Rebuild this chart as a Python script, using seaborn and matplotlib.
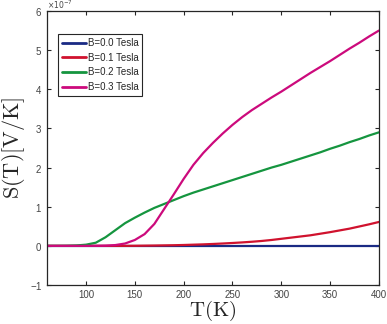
import numpy as np
import pandas as pd
import matplotlib
matplotlib.use("Agg")
import matplotlib.pyplot as plt
import seaborn as sns
from matplotlib.ticker import ScalarFormatter

# Temperature grid (K)
T = [60, 70, 80, 90, 100, 110, 120, 130, 140, 150, 160, 170, 180, 190, 200,
     210, 220, 230, 240, 250, 260, 270, 280, 290, 300, 310, 320, 330, 340,
     350, 360, 370, 380, 390, 400]

# Seebeck coefficient in units of 1e-7 V/K
S_B00 = [0.0] * len(T)
S_B01 = [0, 0, 0, 0, 0, 0, 0, 0, 0, 0.002, 0.005, 0.008, 0.012, 0.016, 0.022,
         0.03, 0.038, 0.048, 0.06, 0.073, 0.088, 0.105, 0.125, 0.15, 0.18,
         0.21, 0.24, 0.27, 0.31, 0.35, 0.395, 0.44, 0.495, 0.55, 0.61]
S_B02 = [0, 0, 0.002, 0.01, 0.03, 0.08, 0.22, 0.40, 0.58, 0.72, 0.85, 0.97,
         1.07, 1.17, 1.27, 1.36, 1.44, 1.52, 1.60, 1.68, 1.76, 1.84, 1.92,
         2.00, 2.07, 2.15, 2.23, 2.31, 2.39, 2.48, 2.56, 2.65, 2.73, 2.82, 2.90]
S_B03 = [0, 0, 0, 0, 0, 0, 0.005, 0.02, 0.06, 0.15, 0.30, 0.56, 0.94, 1.32,
         1.71, 2.07, 2.37, 2.63, 2.87, 3.09, 3.29, 3.47, 3.63, 3.79, 3.94,
         4.10, 4.26, 4.42, 4.57, 4.72, 4.88, 5.04, 5.19, 5.35, 5.50]

labels = ["B=0.0 Tesla", "B=0.1 Tesla", "B=0.2 Tesla", "B=0.3 Tesla"]
colors = ["#1a2a84", "#d0122e", "#15953f", "#cc0a7c"]
scale = 1e-7

frames = []
for lab, s in zip(labels, [S_B00, S_B01, S_B02, S_B03]):
    frames.append(pd.DataFrame({"T": T, "S": np.array(s) * scale, "B": lab}))
df = pd.concat(frames, ignore_index=True)

sns.set_style("ticks")
plt.rcParams["font.family"] = ["Liberation Sans", "DejaVu Sans"]
plt.rcParams["mathtext.fontset"] = "cm"
plt.rcParams["axes.unicode_minus"] = False

fig = plt.figure(figsize=(3.87, 3.24), dpi=100)
ax = fig.add_axes([0.1214, 0.1204, 0.8576, 0.8456])

sns.lineplot(data=df, x="T", y="S", hue="B", hue_order=labels,
             palette=colors, linewidth=1.6, ax=ax, legend=True)

ax.set_xlim(60, 400)
ax.set_ylim(-1e-7, 6e-7)
ax.set_xticks([100, 150, 200, 250, 300, 350, 400])
ax.set_yticks(np.arange(-1, 7) * 1e-7)
fmt = ScalarFormatter(useMathText=True)
fmt.set_powerlimits((-3, 3))
ax.yaxis.set_major_formatter(fmt)
ax.yaxis.get_offset_text().set_visible(False)
ax.text(0.0, 1.006, r"$\times10^{-7}$", transform=ax.transAxes,
        fontsize=5.5, color="#444444", va="baseline", ha="left",
        math_fontfamily="dejavusans")

ax.tick_params(direction="in", length=3, width=0.8, top=True, right=True,
               labelsize=7, labelcolor="#444444", color="#262626")
for sp in ax.spines.values():
    sp.set_visible(True)
    sp.set_color("#262626")
    sp.set_linewidth(0.9)

ax.set_xlabel(r"$\mathrm{T(K)}$", fontsize=15, labelpad=-1)
ax.set_ylabel(r"$\mathrm{S(T)[V/K]}$", fontsize=16, labelpad=2)

leg = ax.legend(loc="upper left", bbox_to_anchor=(0.033, 0.916), fontsize=7,
                frameon=True, fancybox=False, handlelength=2.5,
                handletextpad=0.15, borderpad=0.4, labelspacing=0.48,
                borderaxespad=0)
leg.get_frame().set_edgecolor("#262626")
leg.get_frame().set_linewidth(0.8)
leg.get_frame().set_alpha(1)
for line in leg.get_lines():
    line.set_linewidth(2)

fig.savefig("out.png", dpi=100)
